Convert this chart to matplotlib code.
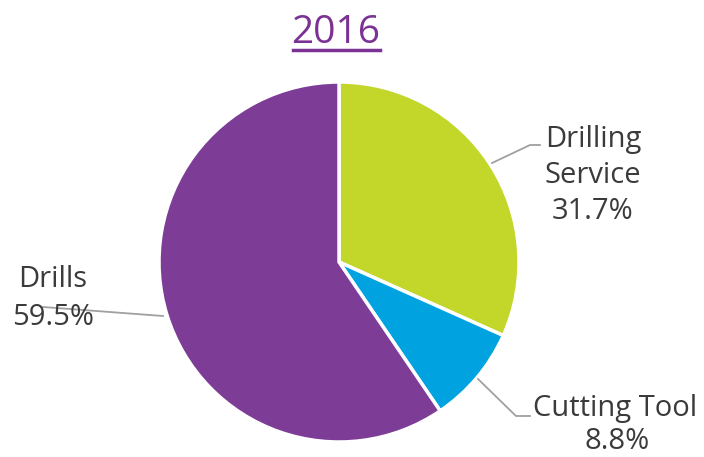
import matplotlib.pyplot as plt

# slice data
labels = ["Drilling\nService", "Cutting Tool", "Drills"]
shares = [31.7, 8.8, 59.5]
colors = ["#C3D62A", "#00A3E0", "#7D3C96"]
title = "2016"

plt.rcParams['font.family'] = ['Open Sans', 'DejaVu Sans']

W, H = 704, 457
fig = plt.figure(figsize=(W / 100, H / 100), dpi=100)
ax = fig.add_axes([0, 0, 1, 1])

cx, cy, r = 339, H - 262, 180
ax.pie(shares, colors=colors, startangle=90, counterclock=False,
       center=(cx, cy), radius=r, frame=True,
       wedgeprops=dict(edgecolor="white", linewidth=2.5))
ax.set_xlim(0, W)
ax.set_ylim(0, H)
ax.set_aspect('equal')
ax.axis('off')

txt = "#3b3b3b"
line = "#a0a0a0"
fs = 21


def label(x, baselines, lines, ha="center"):
    for y, s in zip(baselines, lines):
        ax.text(x, H - y, s, ha=ha, va="baseline", fontsize=fs, color=txt)


# Drilling Service
ax.plot([492, 530, 540], [H - 163, H - 145, H - 145], color=line, lw=1.3)
label(593, [147, 183, 219], labels[0].split("\n") + [f"{shares[0]}%"])

# Cutting Tool
ax.plot([478, 516, 530], [H - 379, H - 416, H - 416], color=line, lw=1.3)
label(533, [416], [labels[1]], ha="left")
label(617, [449], [f"{shares[1]}%"])

# Drills
ax.plot([43, 163], [H - 307, H - 316], color=line, lw=1.3, zorder=0.5)
label(53, [287, 325], [labels[2], f"{shares[2]}%"])

# title with underline
ax.text(336, H - 43, title, ha="center", va="baseline", fontsize=28, color="#7B3294")
ax.plot([293, 380], [H - 50, H - 50], color="#7B3294", lw=2.5)

fig.savefig("out.png", dpi=100)
